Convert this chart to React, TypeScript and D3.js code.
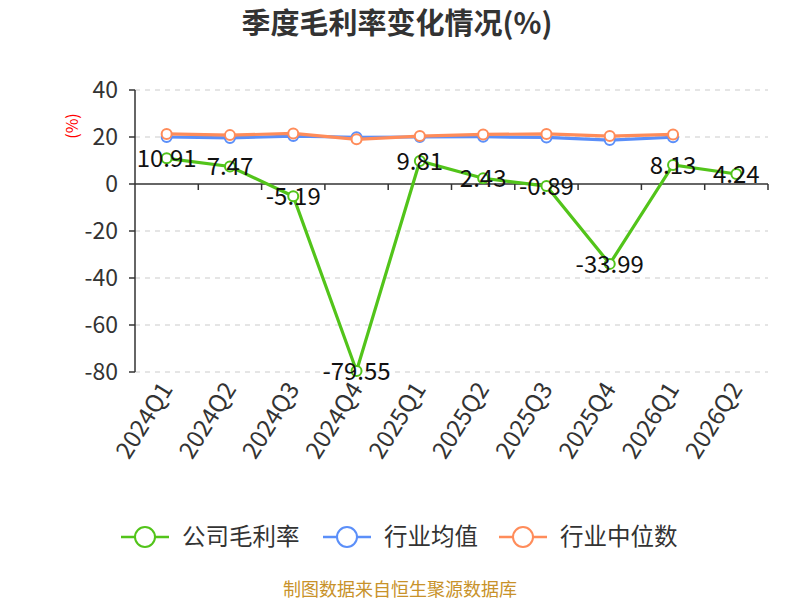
import React from "react";
import * as d3 from "d3";

const categories = ["2024Q1","2024Q2","2024Q3","2024Q4","2025Q1","2025Q2","2025Q3","2025Q4","2026Q1","2026Q2"];
const company = [10.91, 7.47, -5.19, -79.55, 9.81, 2.43, -0.89, -33.99, 8.13, 4.24];
const industryAvg = [20.0, 19.6, 20.4, 19.9, 20.0, 20.1, 19.8, 18.7, 19.9];
const industryMedian = [21.3, 20.8, 21.5, 19.0, 20.4, 21.1, 21.3, 20.4, 21.1];
const yTicks = [40, 20, 0, -20, -40, -60, -80];
const seriesNames = ["公司毛利率", "行业均值", "行业中位数"];
const colors = ["#52c41a", "#5b8ff9", "#ff8c5a"];

const FONT = "'Noto Sans CJK SC', 'Noto Sans', sans-serif";

export default function App() {
  const W = 800, H = 600;
  const x = d3.scaleBand<string>().domain(categories).range([135, 768]);
  const y = d3.scaleLinear().domain([-80, 40]).range([372, 90]);
  const cx = (i: number) => (x(categories[i]) as number) + x.bandwidth() / 2;
  const line = d3.line<number>().x((_, i) => cx(i)).y((d) => y(d));

  const legendX = [121, 323, 499];

  return (
    <svg width={W} height={H} style={{ position: "absolute", left: 0, top: 0, fontFamily: FONT }}>
      <rect width={W} height={H} fill="#fff" />
      <text x={397} y={34} textAnchor="middle" fontSize={29} fontWeight="bold" fill="#333">季度毛利率变化情况(%)</text>
      <text transform={`translate(78,126) rotate(-90)`} textAnchor="middle" fontSize={16} fill="#f00">(%)</text>
      {yTicks.map((t) => (
        <g key={t}>
          {t !== 0 && (
            <line x1={135} x2={768} y1={y(t)} y2={y(t)} stroke="#ccc" strokeDasharray="5,5" strokeWidth={1.2} />
          )}
          <line x1={129} x2={135} y1={y(t)} y2={y(t)} stroke="#333" strokeWidth={1.5} />
          <text x={118} y={y(t)} dy="0.36em" textAnchor="end" fontSize={23} fill="#333">{t}</text>
        </g>
      ))}
      <line x1={135} x2={135} y1={y(40)} y2={y(-80)} stroke="#333" strokeWidth={1.5} />
      <line x1={135} x2={768} y1={y(0)} y2={y(0)} stroke="#333" strokeWidth={1.5} />
      {categories.map((c) => (
        <line key={c} x1={(x(c) as number) + x.bandwidth()} x2={(x(c) as number) + x.bandwidth()} y1={y(0)} y2={y(0) + 6} stroke="#333" strokeWidth={1.5} />
      ))}
      {categories.map((c, i) => (
        <text key={c} transform={`translate(${cx(i) + 7},${389}) rotate(-58)`} textAnchor="end" fontSize={24} fill="#333">{c}</text>
      ))}
      {[industryAvg, industryMedian, company].map((s, k) => {
        const idx = k === 2 ? 0 : k + 1;
        return (
          <g key={k}>
            <path d={line(s) as string} fill="none" stroke={colors[idx]} strokeWidth={3.2} />
            {s.map((v, i) => (
              <circle key={i} cx={cx(i)} cy={y(v)} r={5} fill="#fff" stroke={colors[idx]} strokeWidth={2} />
            ))}
          </g>
        );
      })}
      {company.map((v, i) => (
        <text key={i} x={cx(i)} y={y(v)} dy="0.36em" textAnchor="middle" fontSize={24} fill="#111">{v.toFixed(2)}</text>
      ))}
      {seriesNames.map((n, k) => (
        <g key={n}>
          <line x1={legendX[k]} x2={legendX[k] + 48} y1={537} y2={537} stroke={colors[k]} strokeWidth={2.5} />
          <circle cx={legendX[k] + 24} cy={537} r={10} fill="#fff" stroke={colors[k]} strokeWidth={2} />
          <text x={legendX[k] + 61} y={537} dy="0.36em" fontSize={23.5} fill="#333">{n}</text>
        </g>
      ))}
      <text x={400} y={596} textAnchor="middle" fontSize={18} fill="#c8922a">制图数据来自恒生聚源数据库</text>
    </svg>
  );
}
